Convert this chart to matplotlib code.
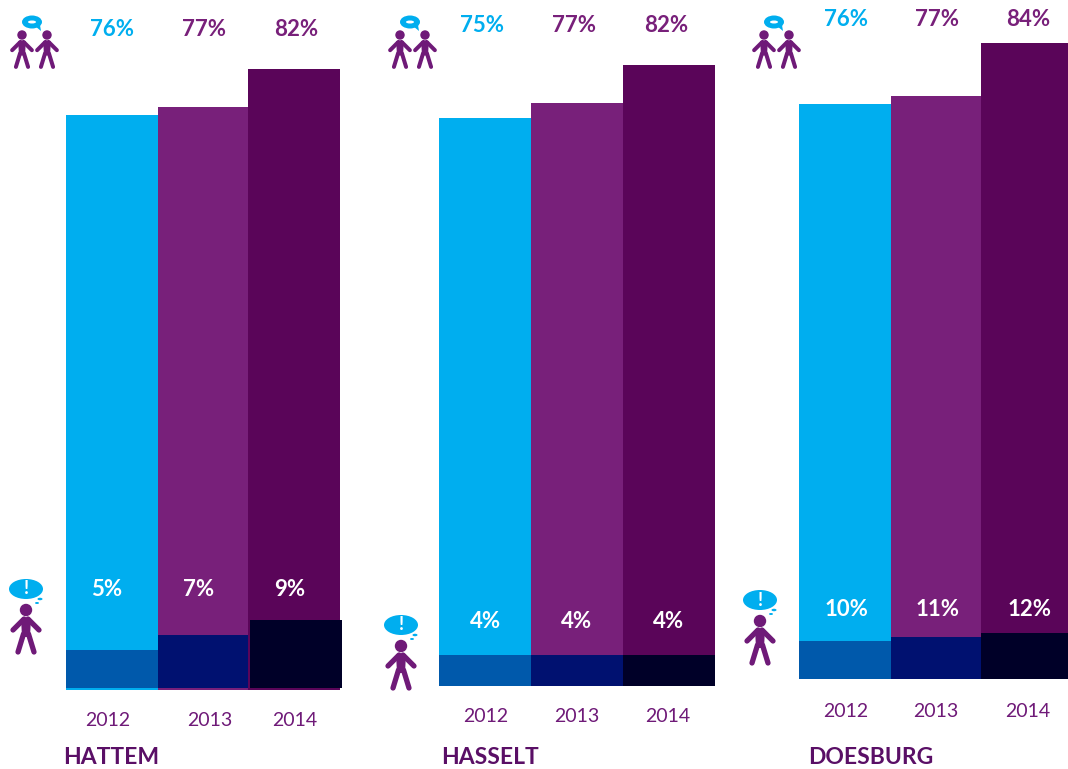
import matplotlib
matplotlib.use("Agg")
import matplotlib.pyplot as plt
from matplotlib.patches import Circle, Ellipse, Polygon

plt.rcParams['font.family'] = ['Lato', 'DejaVu Sans']

W, H = 1068, 769
PX_PER_PCT = 7.57

towns = ["HATTEM", "HASSELT", "DOESBURG"]
years = ["2012", "2013", "2014"]

# top labels and bar heights
high_values = [[76, 77, 82], [75, 77, 82], [76, 77, 84]]
# white labels
low_labels = [[5, 7, 9], [4, 4, 4], [10, 11, 12]]
# the dark overlays are not quite to scale in the original, heights read from the picture
low_heights = [[5.0, 7.0, 9.0], [4.1, 4.1, 4.1], [5.0, 5.5, 6.1]]

main_colors = ["#00aeef", "#78207a", "#5a0559"]
low_colors = ["#0059ab", "#001170", "#000028"]
text_colors = ["#00aeef", "#78207a", "#78207a"]
PURPLE = "#6f1a78"
BLUE = "#00aeef"

# layout, in pixels
baselines = [690, 686, 679]
low_offsets = [2, 0, 0]
edges = [[66, 158, 248, 340], [439, 531, 623, 715], [799, 891, 981, 1068]]
year_x = [[108, 210, 295], [486, 577, 668], [846, 936, 1028]]
year_pad = [16, 16, 17]
high_x = [[112, 204, 296], [482, 574, 666], [846, 937, 1028]]
high_y = [30, 26, 20]
low_x = [[107, 199, 290], [486, 577, 669], [846, 938, 1030]]
low_y = [589, 622, 610]
title_x = [63, 441, 808]
single_pos = [(26, 610), (401, 646), (760, 621)]
pair_pos = [(22, 47), (400, 425), (764, 789)]


def person(ax, x, y, s=1.0):
    # y is the head centre
    lw = 3.8 * s
    ax.add_patch(Circle((x, y), 6.2 * s, color=PURPLE, lw=0))
    ax.add_patch(Polygon([(x - 5 * s, y + 8 * s), (x + 5 * s, y + 8 * s), (x + 4 * s, y + 27 * s),
                          (x - 4 * s, y + 27 * s)], closed=True, color=PURPLE, lw=0))
    ax.plot([x - 2 * s, x - 13 * s], [y + 9 * s, y + 20 * s], color=PURPLE, lw=lw, solid_capstyle="round")
    ax.plot([x + 2 * s, x + 13 * s], [y + 9 * s, y + 20 * s], color=PURPLE, lw=lw, solid_capstyle="round")
    ax.plot([x - 2.5 * s, x - 8 * s], [y + 24 * s, y + 42 * s], color=PURPLE, lw=lw, solid_capstyle="round")
    ax.plot([x + 2.5 * s, x + 8 * s], [y + 24 * s, y + 42 * s], color=PURPLE, lw=lw, solid_capstyle="round")


fig = plt.figure(figsize=(W / 100, H / 100), dpi=100)

for i, town in enumerate(towns):
    left, right = edges[i][0], edges[i][3]
    base = baselines[i]
    ax = fig.add_axes([left / W, 1 - base / H, (right - left) / W, base / H])
    ax.set_xlim(left, right)
    ax.set_ylim(0, base / PX_PER_PCT)
    ax.patch.set_alpha(0)
    for s in ax.spines.values():
        s.set_visible(False)
    ax.set_yticks([])
    ax.set_xticks(year_x[i])
    ax.set_xticklabels(years, fontsize=14, color=PURPLE)
    ax.tick_params(axis="x", length=0, pad=year_pad[i])
    for j in range(3):
        x0, x1 = edges[i][j], edges[i][j + 1]
        ax.bar(x0, high_values[i][j], width=x1 - x0, align="edge", color=main_colors[j], lw=0)
        off = low_offsets[i] / PX_PER_PCT
        shift = 2 if (i == 0 and j == 2) else 0
        ax.bar(x0 + shift, low_heights[i][j], width=x1 - x0, bottom=off, align="edge",
               color=low_colors[j], lw=0, clip_on=False)

# overlay in pixel coordinates for the labels and the icons
ov = fig.add_axes([0, 0, 1, 1])
ov.set_xlim(0, W)
ov.set_ylim(H, 0)
ov.axis("off")
ov.patch.set_alpha(0)

for i, town in enumerate(towns):
    ov.text(title_x[i], 757, town, fontsize=16.5, fontweight="bold", color="#5a0f66", ha="left", va="center")
    for j in range(3):
        ov.text(high_x[i][j], high_y[i], f"{high_values[i][j]}%", fontsize=16, fontweight="bold",
                color=text_colors[j], ha="center", va="center")
        ov.text(low_x[i][j], low_y[i], f"{low_labels[i][j]}%", fontsize=16, fontweight="bold",
                color="white", ha="center", va="center")

    # single person with thought bubble
    px, py = single_pos[i]
    person(ov, px, py, 1.0)
    ov.add_patch(Ellipse((px, py - 21), 34, 20, color=BLUE, lw=0))
    ov.text(px, py - 21, "!", fontsize=13, fontweight="bold", color="white", ha="center", va="center")
    ov.add_patch(Ellipse((px + 14, py - 11), 5, 2.5, color=BLUE, lw=0))
    ov.add_patch(Ellipse((px + 11, py - 7), 4, 2, color=BLUE, lw=0))

    # two people talking
    a, b = pair_pos[i]
    person(ov, a, 35, 0.76)
    person(ov, b, 35, 0.76)
    cx = a + 10
    ov.add_patch(Ellipse((cx, 22), 20, 13, color=BLUE, lw=0))
    ov.add_patch(Polygon([(cx + 3, 26), (cx + 8, 25), (cx + 9, 31)], closed=True, color=BLUE, lw=0))
    ov.add_patch(Ellipse((cx, 22), 8, 3, color="white", lw=0))

fig.savefig("out.png", dpi=100)
